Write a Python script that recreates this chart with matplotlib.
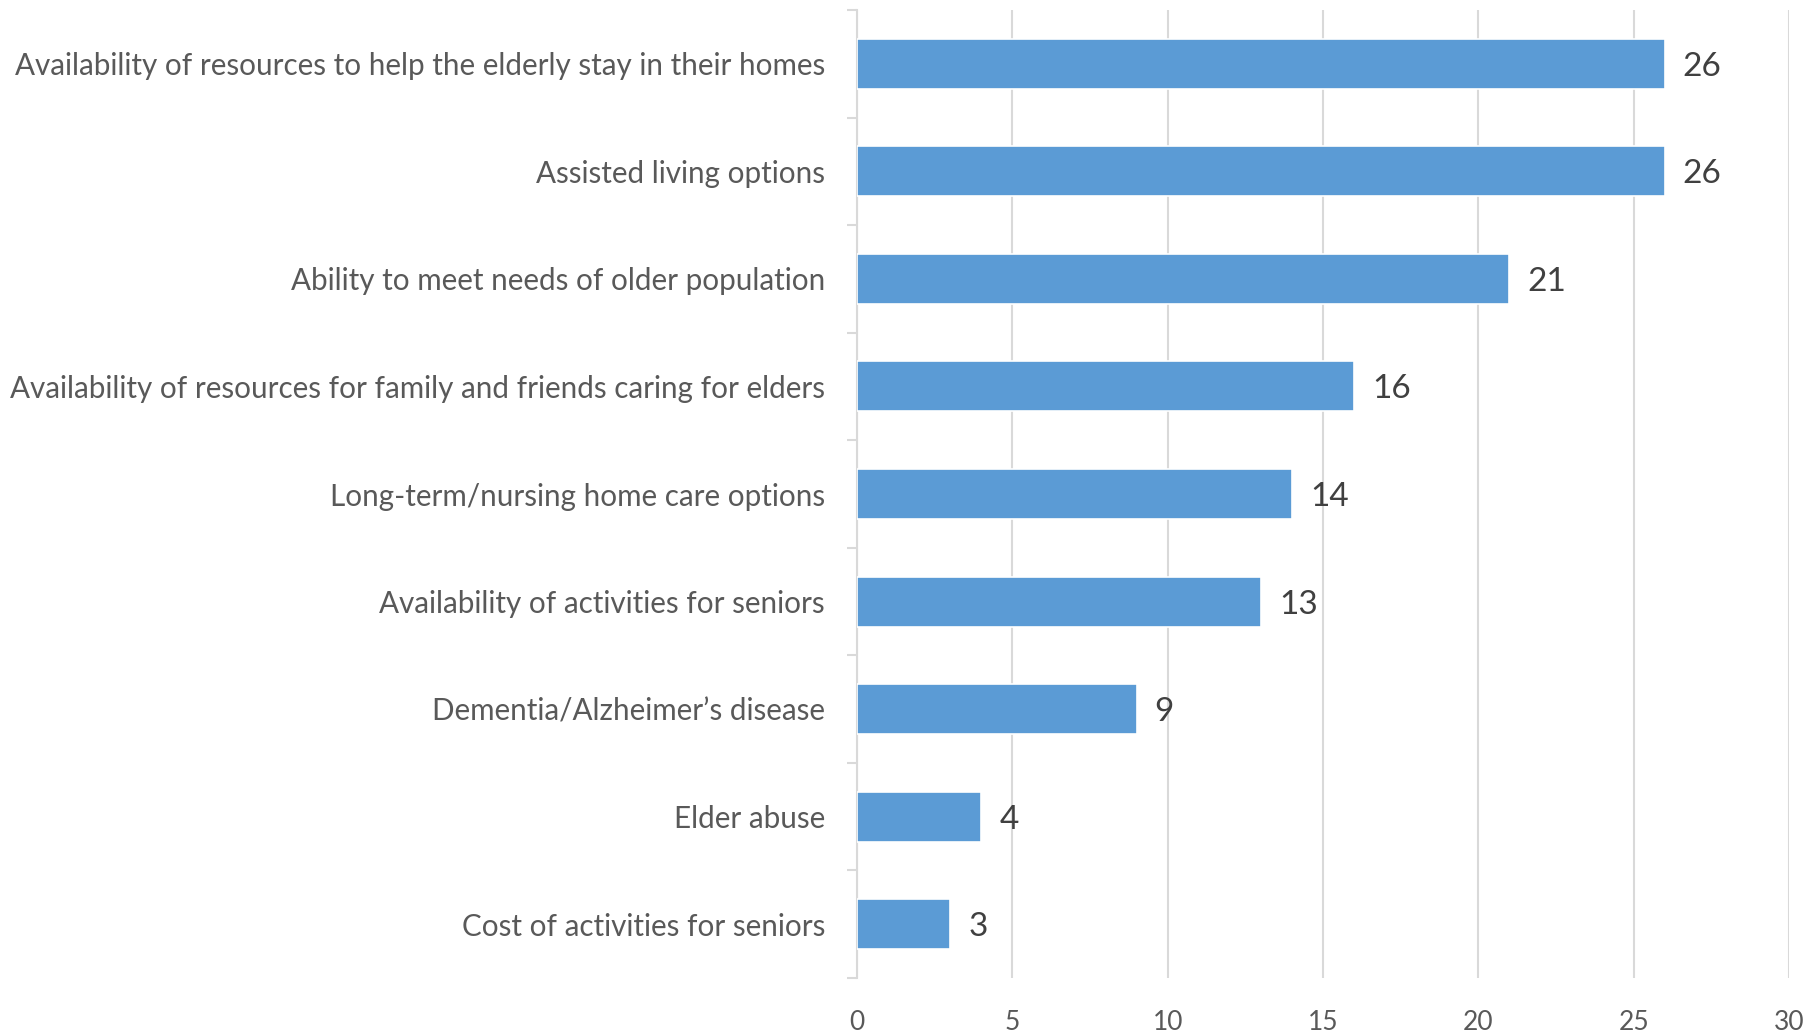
import matplotlib
matplotlib.use('AGG')
import matplotlib.pyplot as plt
import numpy as np

# Data for plotting
categories = [
    "Availability of resources to help the elderly stay in their homes",
    "Assisted living options",
    "Ability to meet needs of older population",
    "Availability of resources for family and friends caring for elders",
    "Long-term/nursing home care options",
    "Availability of activities for seniors",
    "Dementia/Alzheimer\u2019s disease",
    "Elder abuse",
    "Cost of activities for seniors",
]
counts = [26, 26, 21, 16, 14, 13, 9, 4, 3]
xticks = [0, 5, 10, 15, 20, 25, 30]

plt.rcParams['font.family'] = ['Lato', 'DejaVu Sans']

fig = plt.figure(figsize=(18.10, 10.33), dpi=100)
ax = fig.add_axes([0.4735, 0.0532, 0.9884 - 0.4735, 0.9903 - 0.0532])

y = np.arange(len(categories))
bars = ax.barh(y, counts, height=0.465, color='#5b9bd5', edgecolor='white',
               linewidth=1.2, zorder=3)

for yi, v in zip(y, counts):
    ax.annotate(str(v), xy=(v, yi), xytext=(13, 0), textcoords='offset points',
                va='center_baseline', ha='left', fontsize=24, color='#404040')

ax.set_xlim(0, 30)
ax.set_ylim(len(categories) - 0.5, -0.5)
ax.set_xticks(xticks)
ax.set_xticklabels([str(t) for t in xticks], fontsize=19, color='#595959')
ax.tick_params(axis='x', length=0, pad=23)
ax.grid(axis='x', color='#d9d9d9', linewidth=1.5, zorder=0)

ax.set_yticks(y)
ax.set_yticklabels(categories, fontsize=21.3, color='#595959')
ax.set_yticks(np.arange(len(categories) + 1) - 0.5, minor=True)
ax.tick_params(axis='y', which='major', length=0, pad=23)
ax.tick_params(axis='y', which='minor', length=7, width=1.5, color='#d9d9d9')

for side in ['top', 'right', 'bottom']:
    ax.spines[side].set_visible(False)
ax.spines['left'].set_color('#d9d9d9')
ax.spines['left'].set_linewidth(1.5)

fig.savefig('out.png', dpi=100)
